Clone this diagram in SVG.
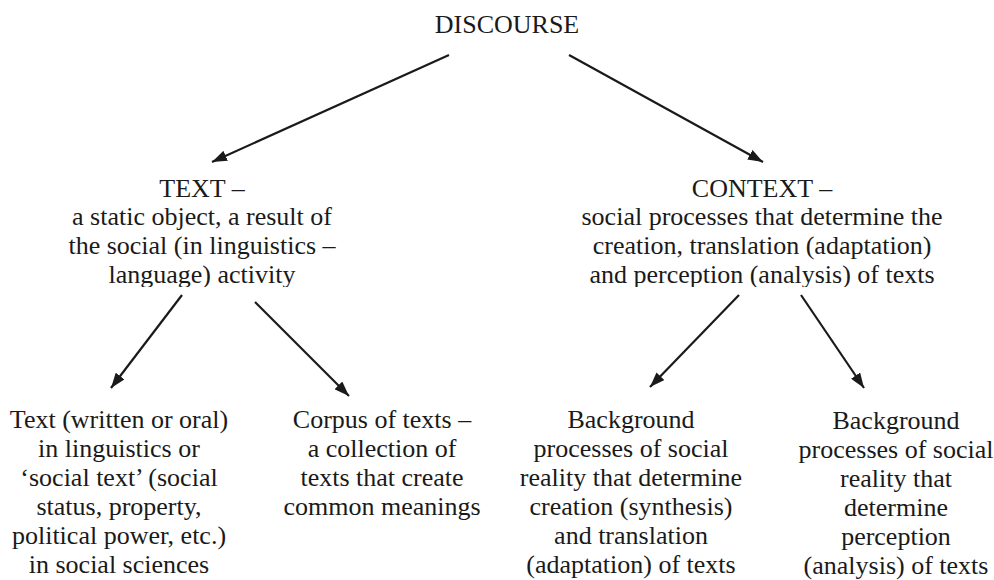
<svg xmlns="http://www.w3.org/2000/svg" width="994" height="580" viewBox="0 0 994 580">
<defs>
<marker id="ah" viewBox="0 0 15 11" refX="15" refY="5.5" markerWidth="15" markerHeight="11" markerUnits="userSpaceOnUse" orient="auto">
<path d="M0,0 L15,5.5 L0,11 Z" fill="#1a1a1a"/>
</marker>
<clipPath id="clipTop"><rect x="0" y="0" width="994" height="287"/></clipPath>
</defs>
<style>
text{font-family:'Liberation Serif','Times New Roman','DejaVu Serif',serif;font-size:26px;fill:#1a1a1a;text-anchor:middle}
.c line{stroke:#1a1a1a;stroke-width:2.2;marker-end:url(#ah)}
</style>
<rect width="994" height="580" fill="#ffffff"/>
<g id="discourse"><text x="507" y="33">DISCOURSE</text></g>
<g id="text-node" clip-path="url(#clipTop)">
<text x="202" y="197">TEXT –</text>
<text x="202" y="225">a static object, a result of</text>
<text x="202" y="254">the social (in linguistics –</text>
<text x="202" y="283">language) activity</text>
</g>
<g id="context-node" clip-path="url(#clipTop)">
<text x="762" y="197">CONTEXT –</text>
<text x="762" y="225">social processes that determine the</text>
<text x="762" y="254">creation, translation (adaptation)</text>
<text x="762" y="283">and perception (analysis) of texts</text>
</g>
<g id="text-written">
<text x="119" y="428">Text (written or oral)</text>
<text x="119" y="457">in linguistics or</text>
<text x="119" y="486">‘social text’ (social</text>
<text x="119" y="515">status, property,</text>
<text x="119" y="544">political power, etc.)</text>
<text x="119" y="573">in social sciences</text>
</g>
<g id="corpus">
<text x="382" y="428">Corpus of texts –</text>
<text x="382" y="457">a collection of</text>
<text x="382" y="486">texts that create</text>
<text x="382" y="515">common meanings</text>
</g>
<g id="bg-creation">
<text x="631" y="428">Background</text>
<text x="631" y="457">processes of social</text>
<text x="631" y="486">reality that determine</text>
<text x="631" y="515">creation (synthesis)</text>
<text x="631" y="544">and translation</text>
<text x="631" y="573">(adaptation) of texts</text>
</g>
<g id="bg-perception">
<text x="896" y="429">Background</text>
<text x="896" y="458">processes of social</text>
<text x="896" y="487">reality that</text>
<text x="896" y="516">determine</text>
<text x="896" y="545">perception</text>
<text x="896" y="574">(analysis) of texts</text>
</g>
<g id="connectors" class="c">
<line x1="449" y1="55" x2="212" y2="162"/>
<line x1="569" y1="55" x2="763" y2="162"/>
<line x1="182" y1="295" x2="111" y2="388"/>
<line x1="255" y1="302" x2="349" y2="396"/>
<line x1="739" y1="295" x2="650" y2="387"/>
<line x1="801" y1="295" x2="864" y2="388"/>
</g>
</svg>
